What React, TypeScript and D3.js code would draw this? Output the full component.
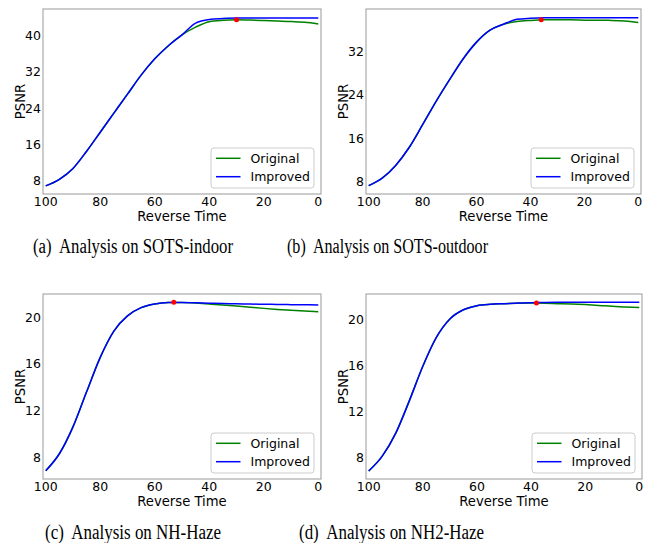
import React from "react";
import { scaleLinear, line, curveMonotoneX } from "d3";

// reverse time steps shared by all four panels
const times = [100, 95, 90, 85, 80, 75, 70, 65, 60, 55, 50, 45, 40, 35, 30, 25, 20, 15, 10, 5, 0];
const xTicks = [100, 80, 60, 40, 20, 0];

const captions = [
  "(a)  Analysis on SOTS-indoor",
  "(b)  Analysis on SOTS-outdoor",
  "(c)  Analysis on NH-Haze",
  "(d)  Analysis on NH2-Haze",
];

// PSNR per panel
const originalA = [6.85, 8.3, 10.7, 14.5, 18.7, 22.9, 27.1, 31.3, 34.9, 37.8, 40.2, 41.9, 43.1, 43.4, 43.5, 43.45, 43.35, 43.25, 43.15, 42.95, 42.6];
const improvedA = [6.85, 8.3, 10.7, 14.5, 18.7, 22.9, 27.1, 31.3, 34.9, 37.8, 40.2, 42.8, 43.6, 43.8, 43.9, 43.9, 43.9, 43.9, 43.9, 43.9, 43.9];
const originalB = [7.27, 8.65, 11.0, 14.3, 18.5, 22.8, 26.8, 30.6, 33.7, 35.9, 37.0, 37.5, 37.7, 37.8, 37.8, 37.8, 37.75, 37.72, 37.7, 37.6, 37.3];
const improvedB = [7.27, 8.65, 11.0, 14.3, 18.5, 22.8, 26.8, 30.6, 33.7, 35.9, 37.0, 37.9, 38.1, 38.2, 38.2, 38.2, 38.2, 38.2, 38.2, 38.2, 38.2];
const originalC = [6.85, 8.3, 10.6, 13.6, 16.55, 18.8, 20.1, 20.8, 21.12, 21.24, 21.25, 21.19, 21.11, 21.03, 20.94, 20.84, 20.74, 20.65, 20.57, 20.51, 20.46];
const improvedC = [6.85, 8.3, 10.6, 13.6, 16.55, 18.8, 20.1, 20.8, 21.12, 21.24, 21.25, 21.22, 21.18, 21.15, 21.13, 21.11, 21.09, 21.08, 21.06, 21.05, 21.03];
const originalD = [6.81, 8.1, 10.1, 12.9, 15.9, 18.4, 20.0, 20.8, 21.16, 21.28, 21.33, 21.37, 21.38, 21.37, 21.33, 21.3, 21.25, 21.18, 21.1, 21.05, 20.99];
const improvedD = [6.81, 8.1, 10.1, 12.9, 15.9, 18.4, 20.0, 20.8, 21.16, 21.28, 21.33, 21.39, 21.42, 21.44, 21.45, 21.45, 21.45, 21.45, 21.45, 21.45, 21.45];

// best point (red marker) on the original curve
const bestTime = [30, 36, 53, 38];
const bestPsnr = [43.5, 37.8, 21.26, 21.38];

const yTicksA = [8, 16, 24, 32, 40];
const yTicksB = [8, 16, 24, 32];
const yTicksC = [8, 12, 16, 20];
const yTicksD = [8, 12, 16, 20];

const panels = [
  { left: 43, top: 9, right: 321, bottom: 194, yDomain: [5.06, 45.9], yTicks: yTicksA, orig: originalA, imp: improvedA, capX: 33, capY: 253, capW: 200 },
  { left: 366, top: 9, right: 641, bottom: 194, yDomain: [5.74, 39.8], yTicks: yTicksB, orig: originalB, imp: improvedB, capX: 287, capY: 253, capW: 201 },
  { left: 43, top: 294, right: 321, bottom: 479, yDomain: [6.14, 21.97], yTicks: yTicksC, orig: originalC, imp: improvedC, capX: 45, capY: 539, capW: 176 },
  { left: 366, top: 294, right: 642, bottom: 479, yDomain: [6.12, 22.17], yTicks: yTicksD, orig: originalD, imp: improvedD, capX: 299, capY: 539, capW: 185 },
];

const sans = "'DejaVu Sans'";

function Panel({ p, i }: { p: any; i: number }) {
  const x = scaleLinear().domain([101, -1]).range([p.left, p.right]);
  const y = scaleLinear().domain(p.yDomain).range([p.bottom, p.top]);
  const path = line<number>()
    .x((_, j) => x(times[j]))
    .y(v => y(v))
    .curve(curveMonotoneX);
  const midX = (p.left + p.right) / 2;
  const midY = (p.top + p.bottom) / 2;
  const lgR = p.right - 7;
  const lgL = lgR - 103;
  const lgT = p.bottom - 46;

  return (
    <g>
      {/* curves */}
      <path d={path(p.orig) || ""} fill="none" stroke="#008000" strokeWidth={1.5} />
      <path d={path(p.imp) || ""} fill="none" stroke="#0000ff" strokeWidth={1.5} />
      <circle cx={x(bestTime[i])} cy={y(bestPsnr[i])} r={2.5} fill="#ff0000" />

      {/* frame */}
      <rect x={p.left} y={p.top} width={p.right - p.left} height={p.bottom - p.top}
        fill="none" stroke="#999" strokeWidth={1} />

      {/* x tick labels */}
      {xTicks.map(t => (
        <text key={t} x={x(t)} y={p.bottom + 11.5} textAnchor="middle" fontSize={12.5} fontFamily={sans} fill="#000">{t}</text>
      ))}
      {/* y tick labels */}
      {p.yTicks.map((t: number) => (
        <text key={t} x={p.left - 2} y={y(t)} dy="0.36em" textAnchor="end" fontSize={12.5} fontFamily={sans} fill="#000">{t}</text>
      ))}

      <text x={midX} y={p.bottom + 26.5} textAnchor="middle" fontSize={13.2} fontFamily={sans}>Reverse Time</text>
      <text transform={`translate(${p.left - 18},${midY}) rotate(-90)`} textAnchor="middle" fontSize={13.2} fontFamily={sans}>PSNR</text>

      {/* legend */}
      <rect x={lgL} y={lgT} width={lgR - lgL} height={40} rx={3} fill="#fff" fillOpacity={0.8} stroke="#ccc" />
      <line x1={lgL + 5} x2={lgL + 29.5} y1={lgT + 10.3} y2={lgT + 10.3} stroke="#008000" strokeWidth={1.5} />
      <text x={lgL + 39.5} y={lgT + 10.3} dy="0.36em" fontSize={12.5} fontFamily={sans}>Original</text>
      <line x1={lgL + 5} x2={lgL + 29.5} y1={lgT + 28.7} y2={lgT + 28.7} stroke="#0000ff" strokeWidth={1.5} />
      <text x={lgL + 39.5} y={lgT + 28.7} dy="0.36em" fontSize={12.5} fontFamily={sans}>Improved</text>

      <text x={p.capX} y={p.capY} fontSize={20} textLength={p.capW} lengthAdjust="spacingAndGlyphs"
        fontFamily="'Liberation Serif'" style={{ whiteSpace: "pre" }}>{captions[i]}</text>
    </g>
  );
}

export default function App() {
  return (
    <svg width={651} height={543} style={{ position: "absolute", left: 0, top: 0, background: "#fff" }}>
      {panels.map((p, i) => <Panel key={i} p={p} i={i} />)}
    </svg>
  );
}
